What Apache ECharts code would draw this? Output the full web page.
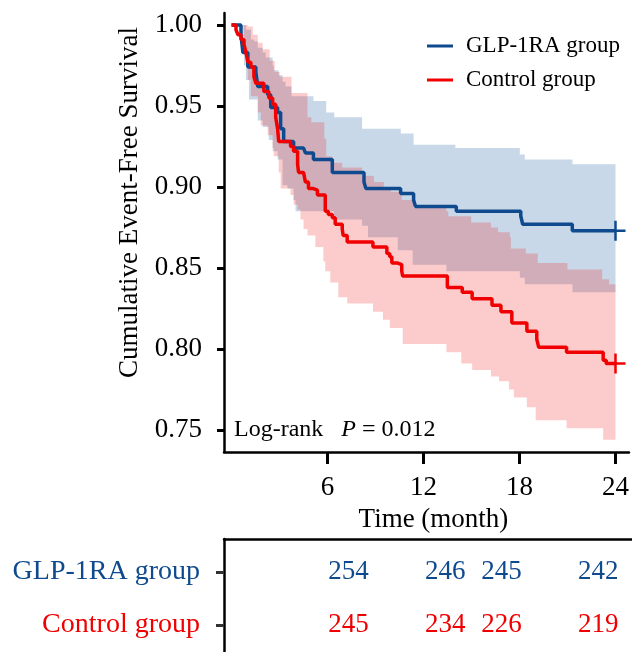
<!DOCTYPE html>
<html>
<head>
<meta charset="utf-8">
<script src="https://cdn.jsdelivr.net/npm/echarts@6/dist/echarts.min.js"></script>
<style>
html, body { margin: 0; padding: 0; background: #fff; }
#main { width: 632px; height: 652px; }
</style>
</head>
<body>
<div id="main"></div>
<script>
const FONT = "'Liberation Serif', 'Times New Roman', serif";
const BLUE = '#0f4a8e';
const RED = '#f00000';

// KM 曲线 (月, 生存率)
const glpTime = [0, 0.59, 0.71, 1.02, 1.52, 1.64, 2.26, 2.45, 2.88, 3.07, 3.26, 3.88, 4.5, 4.62, 5.12, 6.3, 8.28, 8.4, 10.57, 11.38, 11.5, 14.05, 18.08, 18.2, 21.3, 24];
const glpSurv = [1.0, 0.994, 0.983, 0.974, 0.971, 0.962, 0.957, 0.949, 0.946, 0.936, 0.928, 0.924, 0.923, 0.921, 0.917, 0.909, 0.903, 0.899, 0.896, 0.892, 0.888, 0.885, 0.882, 0.877, 0.873, 0.873];

const ctrlTime = [0, 0.28, 0.4, 0.59, 0.78, 0.9, 1.02, 1.21, 1.4, 1.52, 2.02, 2.33, 2.57, 2.76, 2.88, 2.95, 3.69, 3.88, 4.13, 4.19, 4.5, 4.62, 4.81, 5.12, 5.37, 5.86, 6.05, 6.3, 6.48, 6.92, 6.98, 7.23, 8.84, 9.71, 9.89, 10.02, 10.39, 10.64, 10.7, 13.49, 14.42, 15.04, 16.28, 16.84, 17.52, 18.46, 19.08, 19.2, 20.94, 23.23, 23.42, 24];
const ctrlSurv = [1.0, 0.997, 0.994, 0.991, 0.988, 0.983, 0.977, 0.974, 0.968, 0.964, 0.959, 0.955, 0.951, 0.943, 0.936, 0.928, 0.925, 0.922, 0.914, 0.909, 0.908, 0.903, 0.899, 0.898, 0.895, 0.885, 0.883, 0.881, 0.877, 0.874, 0.870, 0.866, 0.863, 0.859, 0.857, 0.853, 0.852, 0.848, 0.845, 0.838, 0.835, 0.831, 0.827, 0.823, 0.816, 0.811, 0.806, 0.801, 0.798, 0.793, 0.791, 0.791];

// 95% 置信区间
const glpUpTime = [0, 0.9, 1.21, 1.4, 1.64, 1.95, 2.14, 2.57, 2.64, 2.95, 3.19, 3.38, 3.75, 5.12, 5.92, 6.42, 8.16, 10.58, 11.38, 13.99, 18.02, 18.33, 21.31, 24];
const glpUp = [1.0, 0.997, 0.991, 0.990, 0.986, 0.983, 0.980, 0.975, 0.972, 0.969, 0.965, 0.962, 0.956, 0.953, 0.946, 0.943, 0.936, 0.933, 0.926, 0.924, 0.920, 0.917, 0.914, 0.914];
const glpLowTime = [0, 0.59, 0.78, 0.9, 1.09, 1.64, 1.95, 2.33, 2.57, 2.88, 3.19, 3.5, 3.88, 4.0, 6.4, 8.16, 8.53, 10.39, 11.32, 13.43, 18.02, 18.33, 21.31, 24];
const glpLow = [1.0, 0.986, 0.975, 0.966, 0.954, 0.941, 0.937, 0.929, 0.922, 0.917, 0.901, 0.899, 0.892, 0.885, 0.880, 0.876, 0.869, 0.861, 0.852, 0.848, 0.844, 0.840, 0.835, 0.835];

const ctrlUpTime = [0, 1.02, 1.33, 1.64, 1.95, 2.39, 2.7, 3.01, 3.75, 4.75, 4.99, 5.8, 5.92, 6.3, 6.92, 8.16, 8.9, 9.52, 9.96, 10.64, 11.38, 13.43, 13.55, 14.98, 16.22, 16.66, 17.4, 17.46, 18.39, 19.14, 21.0, 23.17, 23.6, 24];
const ctrlUp = [1.0, 0.999, 0.994, 0.989, 0.985, 0.978, 0.971, 0.968, 0.958, 0.943, 0.940, 0.930, 0.919, 0.915, 0.912, 0.907, 0.903, 0.900, 0.897, 0.892, 0.887, 0.885, 0.882, 0.878, 0.875, 0.872, 0.869, 0.862, 0.859, 0.853, 0.849, 0.843, 0.840, 0.840];
const ctrlLowTime = [0, 0.78, 1.02, 1.21, 1.64, 1.83, 2.26, 2.57, 2.64, 2.95, 3.07, 3.69, 3.88, 4.13, 4.31, 4.5, 4.75, 5.24, 5.74, 5.86, 6.17, 6.67, 7.23, 8.84, 9.46, 9.89, 10.7, 13.43, 14.36, 15.04, 16.22, 16.72, 17.34, 17.65, 18.46, 19.01, 20.94, 23.23, 24];
const ctrlLow = [1.0, 0.983, 0.966, 0.956, 0.946, 0.938, 0.932, 0.924, 0.919, 0.909, 0.899, 0.895, 0.889, 0.886, 0.880, 0.874, 0.870, 0.863, 0.854, 0.848, 0.841, 0.832, 0.828, 0.823, 0.818, 0.813, 0.803, 0.798, 0.791, 0.787, 0.783, 0.780, 0.775, 0.770, 0.764, 0.756, 0.751, 0.744, 0.744];

// 刻度
const xTicks = [6, 12, 18, 24];
const yTicks = [0.75, 0.80, 0.85, 0.90, 0.95, 1.00];

// 风险人数表
const groups = ['Control group', 'GLP-1RA group'];
const riskTime = [6, 12, 18, 24];
const glpRisk = [254, 246, 245, 242];
const ctrlRisk = [245, 234, 226, 219];
const riskAlign = ['left', 'left', 'right', 'right'];

function pairs(ts, vs) {
    return ts.map(function (t, i) { return [t, vs[i]]; });
}

// 阶梯折线的顶点
function stepPoints(ts, vs) {
    let pts = [];
    for (let i = 0; i < ts.length; i++) {
        if (i > 0) pts.push([ts[i], vs[i - 1]]);
        pts.push([ts[i], vs[i]]);
    }
    return pts;
}

// 置信区间: 一个多边形, 坐标由坐标轴换算
function bandSeries(lowT, low, upT, up, color) {
    let pts = stepPoints(upT, up).concat(stepPoints(lowT, low).reverse());
    return {
        type: 'custom', silent: true,
        data: [[upT[0], up[0]]],
        encode: { x: 0, y: 1 },
        renderItem: function (params, api) {
            return {
                type: 'polygon',
                shape: { points: pts.map(function (p) { return api.coord(p); }) },
                style: { fill: color }
            };
        }
    };
}

function riskSeries(counts, row, color) {
    return {
        type: 'scatter', xAxisIndex: 1, yAxisIndex: 1, symbolSize: 1, silent: true,
        itemStyle: { color: 'transparent', opacity: 1 },
        data: riskTime.map(function (t, i) {
            return {
                value: [t, row, counts[i]],
                label: { align: riskAlign[i] }
            };
        }),
        label: {
            show: true, position: 'inside', verticalAlign: 'middle',
            formatter: function (p) { return p.value[2]; },
            color: color, fontSize: 27, fontFamily: FONT
        }
    };
}

const PLUS = 'path://M8.75,0H11.25V20H8.75Z M0,8.75H20V11.25H0Z';

let chart = echarts.init(document.getElementById('main'));

chart.setOption({
    animation: false,
    textStyle: { fontFamily: FONT },
    title: {
        text: 'Log-rank   {i|P} = 0.012',
        left: 229, top: 413,
        textStyle: {
            fontSize: 24, fontWeight: 'normal', color: '#000', fontFamily: FONT,
            rich: { i: { fontStyle: 'italic', fontSize: 24, fontFamily: FONT, color: '#000' } }
        }
    },
    legend: {
        orient: 'vertical',
        left: 422, top: 29,
        itemWidth: 26, itemHeight: 3, itemGap: 10,
        data: [
            { name: 'GLP-1RA group', icon: 'rect' },
            { name: 'Control group', icon: 'rect' }
        ],
        textStyle: { fontSize: 23, color: '#000', fontFamily: FONT, lineHeight: 24, padding: [0, 0, 0, 8] }
    },
    grid: [
        { left: 224, right: 0, top: 13, bottom: 200 },
        { left: 224, right: 0, top: 539, bottom: 0 }
    ],
    xAxis: [
        {
            type: 'value', gridIndex: 0, min: -0.47, max: 24.84,
            axisLine: { onZero: false, lineStyle: { color: '#000', width: 2.5 } },
            axisTick: { customValues: xTicks, length: 12, lineStyle: { color: '#000', width: 3 } },
            axisLabel: { customValues: xTicks, fontSize: 27, margin: 22, color: '#000', fontFamily: FONT },
            splitLine: { show: false },
            name: 'Time (month)', nameLocation: 'middle', nameGap: 54,
            nameTextStyle: { fontSize: 27, color: '#000', fontFamily: FONT, padding: [0, 0, 0, 14] }
        },
        {
            type: 'value', gridIndex: 1, min: -0.47, max: 24.84, position: 'top',
            axisLine: { onZero: false, lineStyle: { color: '#000', width: 2.5 } },
            axisTick: { show: false }, axisLabel: { show: false }, splitLine: { show: false }
        }
    ],
    yAxis: [
        {
            type: 'value', gridIndex: 0, min: 0.7364, max: 1.0074,
            axisLine: { show: true, onZero: false, lineStyle: { color: '#000', width: 2.5 } },
            axisTick: { show: true, customValues: yTicks, length: 7, lineStyle: { color: '#000', width: 3 } },
            axisLabel: {
                customValues: yTicks, fontSize: 27, margin: 22, color: '#000', fontFamily: FONT,
                formatter: function (v) { return v.toFixed(2); }
            },
            splitLine: { show: false },
            name: 'Cumulative Event-Free Survival', nameLocation: 'middle', nameGap: 78,
            nameTextStyle: { fontSize: 27, color: '#000', fontFamily: FONT, padding: [0, 0, 0, 60] }
        },
        {
            type: 'value', gridIndex: 1, min: 0.49, max: 2.62,
            axisLine: { show: true, onZero: false, lineStyle: { color: '#000', width: 2.5 } },
            axisTick: { show: true, customValues: [1, 2], length: 8, lineStyle: { color: '#333', width: 3 } },
            axisLabel: {
                customValues: [1, 2], margin: 24,
                formatter: function (v) { return v === 2 ? '{b|' + groups[1] + '}' : '{r|' + groups[0] + '}'; },
                rich: {
                    b: { color: BLUE, fontSize: 28, fontFamily: FONT },
                    r: { color: RED, fontSize: 28, fontFamily: FONT }
                }
            },
            splitLine: { show: false }
        }
    ],
    series: [
        bandSeries(glpLowTime, glpLow, glpUpTime, glpUp, 'rgba(10,78,150,0.22)'),
        bandSeries(ctrlLowTime, ctrlLow, ctrlUpTime, ctrlUp, 'rgba(240,0,0,0.2)'),
        {
            name: 'GLP-1RA group', type: 'line', step: 'end', symbol: 'none',
            color: BLUE, lineStyle: { color: BLUE, width: 3.5 },
            data: pairs(glpTime, glpSurv)
        },
        {
            name: 'Control group', type: 'line', step: 'end', symbol: 'none',
            color: RED, lineStyle: { color: RED, width: 3.5 },
            data: pairs(ctrlTime, ctrlSurv)
        },
        {
            type: 'scatter', symbol: PLUS, symbolSize: 20, silent: true,
            itemStyle: { color: BLUE, opacity: 1 },
            data: [[glpTime[glpTime.length - 1], glpSurv[glpSurv.length - 1]]]
        },
        {
            type: 'scatter', symbol: PLUS, symbolSize: 20, silent: true,
            itemStyle: { color: RED, opacity: 1 },
            data: [[ctrlTime[ctrlTime.length - 1], ctrlSurv[ctrlSurv.length - 1]]]
        },
        riskSeries(glpRisk, 2, BLUE),
        riskSeries(ctrlRisk, 1, RED)
    ]
});
</script>
</body>
</html>
